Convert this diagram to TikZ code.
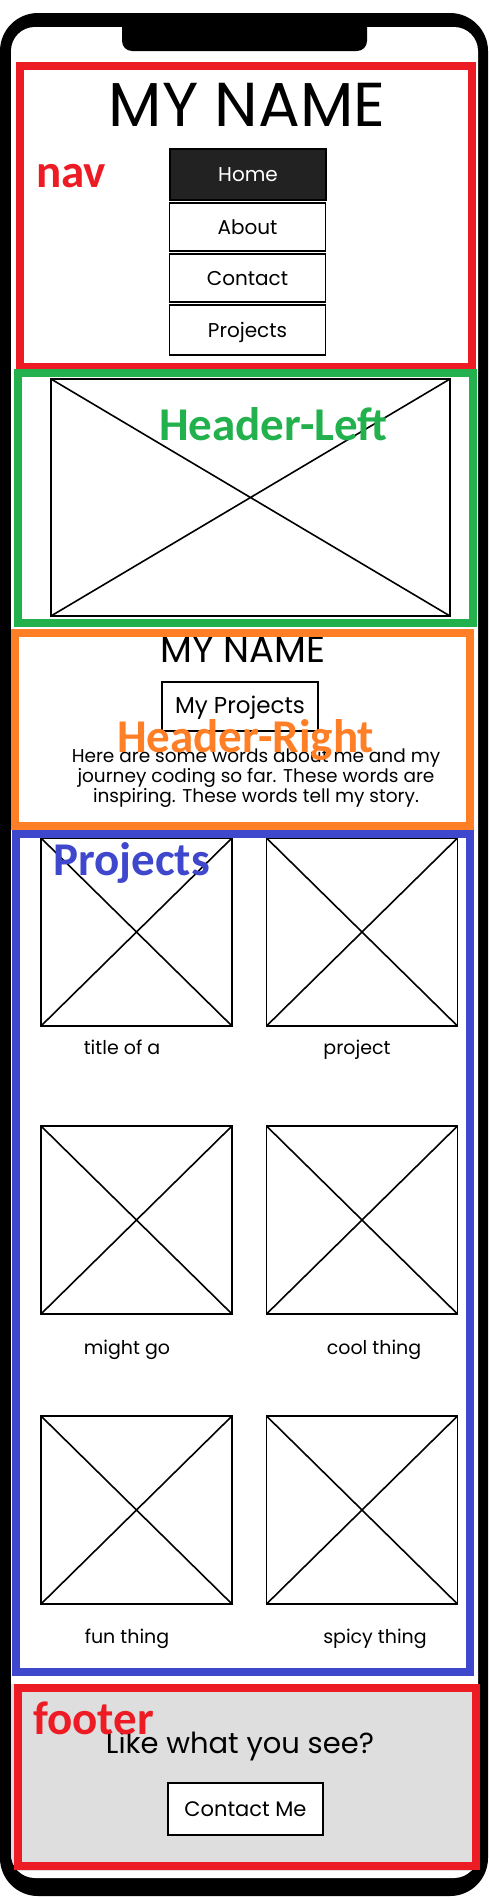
\documentclass[tikz,border=0pt]{standalone}
\usepackage{fontspec}
\setmainfont{Poppins}
\newfontfamily\tagfont{Carlito}
\definecolor{navred}{HTML}{ED1C24}
\definecolor{hlgreen}{HTML}{22B14C}
\definecolor{hrorange}{HTML}{FF7F27}
\definecolor{projblue}{HTML}{3F48CC}
\definecolor{footgray}{HTML}{DEDEDE}
\definecolor{btndark}{HTML}{222222}
\tikzset{
  region/.style={line width=8pt},
  tag/.style={font=\tagfont\bfseries\fontsize{47}{47}\selectfont, anchor=base west, inner sep=0pt},
  sketch/.style={line width=1.6pt, black},
  navbtn/.style={draw, sketch, minimum width=156pt, minimum height=48pt, inner sep=0pt,
    font=\fontsize{20}{20}\selectfont, text height=14pt, text depth=0pt},
  imgbox/.style={draw, sketch, minimum width=191pt, minimum height=188pt, inner sep=0pt,
    path picture={\draw[line width=1.6pt]
      (path picture bounding box.north west) -- (path picture bounding box.south east)
      (path picture bounding box.south west) -- (path picture bounding box.north east);}},
  caption/.style={font=\fontsize{19}{19}\selectfont, anchor=base, inner sep=0pt},
}
\begin{document}
\begin{tikzpicture}[x=1pt,y=-1pt]
  \useasboundingbox (0,0) rectangle (488,1898);
  % phone body
  \fill[white] (0,0) rectangle (488,1898);
  \fill[black, rounded corners=38pt] (0,13) rectangle (488,1896);
  \fill[white, rounded corners=24pt] (11,27) rectangle (478,1878);
  \fill[black, rounded corners=10pt] (122,14) -- (122,51) -- (367,51) -- (367,14) -- cycle;
  % footer background
  \begin{scope}
    \clip[rounded corners=24pt] (11,27) rectangle (478,1878);
    \fill[footgray] (11,1684) rectangle (478,1871);
  \end{scope}
  % nav
  \node[font=\fontsize{62}{62}\selectfont, anchor=base, inner sep=0pt] (title) at (247,126) {MY NAME};
  \node[navbtn, fill=btndark, text=white, minimum height=51pt] (home) at (248,174.5) {Home};
  \node[navbtn] (about) at (247.5,227) {About};
  \node[navbtn] (contact) at (247.5,278) {Contact};
  \node[navbtn, minimum height=50pt] (projbtn) at (247.5,330) {Projects};
  \draw[region, navred] (20,66) rectangle (472,367);
  \node[tag, text=navred] (navtag) at (36,187) {nav};
  % header left
  \node[imgbox, minimum width=399pt, minimum height=237pt] (hero) at (250.5,497.5) {};
  \draw[region, hlgreen] (17.5,373) rectangle (473,622.5);
  \node[tag, text=hlgreen] (hltag) at (159,440) {Header-Left};
  % header right
  \node[font=\fontsize{37}{37}\selectfont, anchor=base, inner sep=0pt] (subtitle) at (243,662) {MY NAME};
  \node[navbtn, minimum height=49pt, font=\fontsize{23}{23}\selectfont] (myproj) at (240,706.5) {My Projects};
  \node[font=\fontsize{18.5}{18}\selectfont, align=center, inner sep=0pt] (blurb) at (256,778)
    {Here are some words about me and my\\journey coding so far. These words are\\inspiring. These words tell my story.};
  \draw[region, hrorange] (15,633) rectangle (470,825.5);
  \node[tag, text=hrorange] (hrtag) at (117,752) {Header-Right};
  % projects grid
  \foreach \r/\yc/\la/\xa/\lb/\xb/\yl in {1/932/title of a/122/project/357/1054,
      2/1220/might go/127/cool thing/374/1354, 3/1510/fun thing/127/spicy thing/375/1643} {
    \node[imgbox] (img-\r-l) at (136.5,\yc) {};
    \node[imgbox] (img-\r-r) at (362,\yc) {};
    \node[caption] (cap-\r-l) at (\xa,\yl) {\la};
    \node[caption] (cap-\r-r) at (\xb,\yl) {\lb};
  }
  \draw[region, projblue] (15.5,834) rectangle (470,1672);
  \node[tag, text=projblue] (projtag) at (53,875) {Projects};
  % footer
  \node[font=\fontsize{29}{29}\selectfont, anchor=base, inner sep=0pt] (cta) at (240,1753) {Like what you see?};
  \node[navbtn, fill=white, minimum width=155pt, minimum height=52pt, font=\fontsize{21}{21}\selectfont] (contactme) at (245.5,1809) {Contact Me};
  \draw[region, navred] (18,1688) rectangle (476,1866);
  \node[tag, text=navred] (foottag) at (33,1734) {footer};
\end{tikzpicture}
\end{document}
